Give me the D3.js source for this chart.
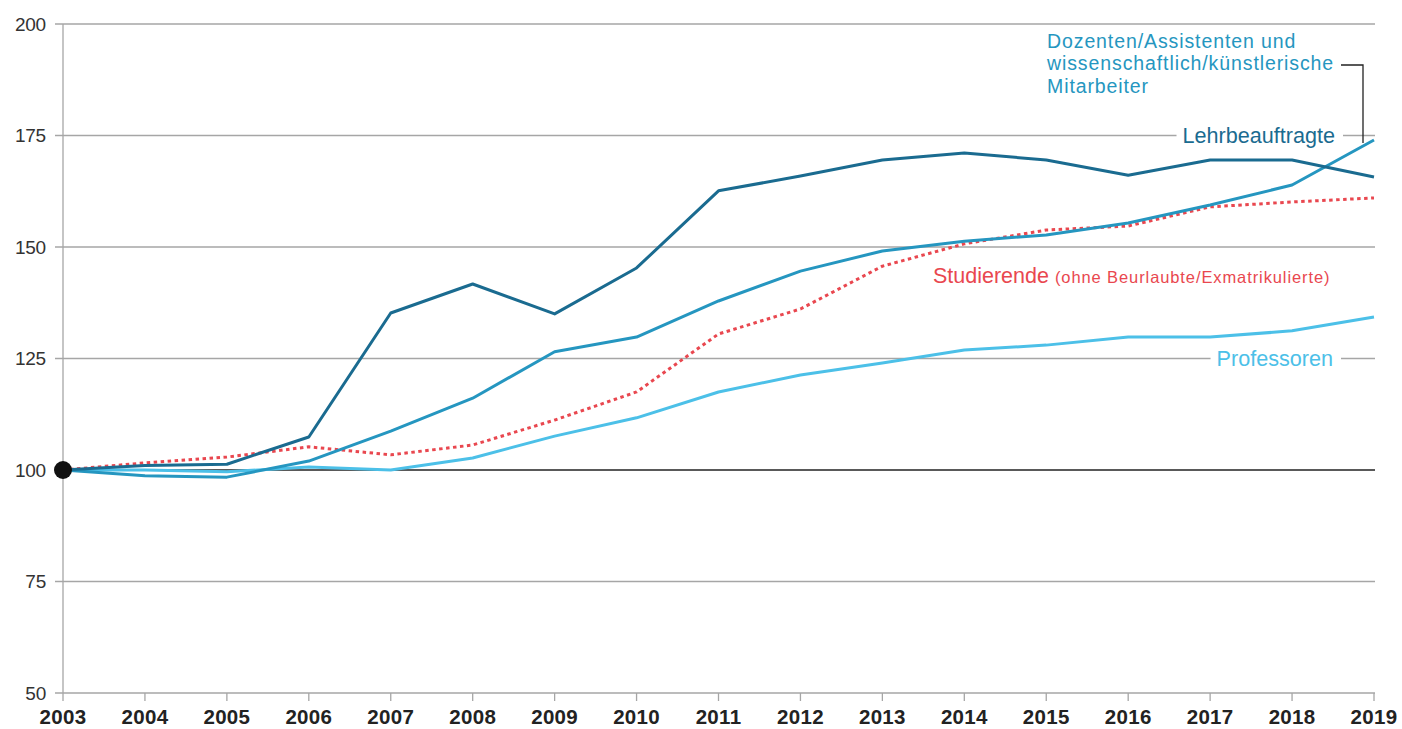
<!DOCTYPE html>
<html>
<head>
<meta charset="utf-8">
<script src="https://cdn.jsdelivr.net/npm/d3@7"></script>
<style>
  html, body { margin: 0; padding: 0; background: #fff; }
  svg { display: block; font-family: "Liberation Sans", Arial, sans-serif; }
</style>
</head>
<body>
<div id="chart"></div>
<script>
// Index values, 2003 = 100
const years = d3.range(2003, 2020);
const yTicks = [50, 75, 100, 125, 150, 175, 200];

const lehrbeauftragte = [100, 101, 101.3, 107.4, 135.2, 141.7, 135, 145.3, 162.6, 165.9, 169.5, 171.1, 169.5, 166.1, 169.5, 169.5, 165.7];
const dozenten = [100, 98.7, 98.4, 102, 108.7, 116.1, 126.5, 129.8, 137.9, 144.6, 149.1, 151.3, 152.7, 155.4, 159.4, 163.9, 174];
const studierende = [100, 101.6, 102.9, 105.2, 103.4, 105.6, 111.2, 117.5, 130.5, 136.1, 145.7, 150.7, 153.8, 154.7, 159, 160.1, 161];
const professoren = [100, 100, 99.6, 100.7, 100, 102.7, 107.6, 111.7, 117.5, 121.3, 124, 126.9, 128, 129.8, 129.8, 131.2, 134.3];

const series = [
  { name: 'professoren', values: professoren, colour: '#4cc0e8', dash: null },
  { name: 'studierende', values: studierende, colour: '#e9474f', dash: '3.5,3.5' },
  { name: 'dozenten', values: dozenten, colour: '#2596c0', dash: null },
  { name: 'lehrbeauftragte', values: lehrbeauftragte, colour: '#1a6b90', dash: null }
];

const width = 1402, height = 729;
const margin = { top: 24, right: 28, bottom: 36, left: 63 };

const x = d3.scaleLinear()
  .domain([2003, 2019])
  .range([margin.left, width - margin.right]);

const y = d3.scaleLinear()
  .domain([50, 200])
  .range([height - margin.bottom, margin.top]);

const svg = d3.select('#chart')
  .append('svg')
  .attr('width', width)
  .attr('height', height);

// Horizontal gridlines
svg.append('g')
  .selectAll('line')
  .data(yTicks)
  .enter()
  .append('line')
  .attr('x1', margin.left - 8)
  .attr('x2', width - margin.right + 1)
  .attr('y1', d => y(d))
  .attr('y2', d => y(d))
  .attr('stroke', d => d === 100 ? '#222' : '#a6a6a6')
  .attr('stroke-width', d => d === 100 ? 1.4 : 1.3);

// Y labels
svg.append('g')
  .selectAll('text')
  .data(yTicks)
  .enter()
  .append('text')
  .attr('x', margin.left - 17)
  .attr('y', d => y(d))
  .attr('dy', '0.36em')
  .attr('text-anchor', 'end')
  .attr('font-size', 19)
  .attr('letter-spacing', -0.2)
  .attr('fill', '#333')
  .text(d => d);

// Vertical axis line
svg.append('line')
  .attr('x1', margin.left).attr('x2', margin.left)
  .attr('y1', y(200)).attr('y2', y(50) + 8)
  .attr('stroke', '#a6a6a6')
  .attr('stroke-width', 1.3);

// X ticks and labels
const xg = svg.append('g');
xg.selectAll('line')
  .data(years.slice(1))
  .enter()
  .append('line')
  .attr('x1', d => x(d)).attr('x2', d => x(d))
  .attr('y1', y(50)).attr('y2', y(50) + 8)
  .attr('stroke', '#a6a6a6')
  .attr('stroke-width', 1.3);

xg.selectAll('text')
  .data(years)
  .enter()
  .append('text')
  .attr('x', d => x(d))
  .attr('y', 724)
  .attr('text-anchor', 'middle')
  .attr('font-size', 20.5)
  .attr('letter-spacing', 0.3)
  .attr('font-weight', 'bold')
  .attr('fill', '#222')
  .text(d => d);

// Lines
const line = d3.line()
  .x((d, i) => x(years[i]))
  .y(d => y(d));

svg.append('g')
  .selectAll('path')
  .data(series)
  .enter()
  .append('path')
  .attr('d', d => line(d.values))
  .attr('fill', 'none')
  .attr('stroke', d => d.colour)
  .attr('stroke-width', 3)
  .attr('stroke-linejoin', 'round')
  .attr('stroke-dasharray', d => d.dash);

// Start dot
svg.append('circle')
  .attr('cx', x(2003))
  .attr('cy', y(100))
  .attr('r', 9)
  .attr('fill', '#111');

// Labels on gridlines (white background breaks the line)
const labelLayer = svg.append('g');
function gridLabel(text, xRight, value, colour) {
  const bg = labelLayer.append('rect').attr('fill', '#fff');
  const t = labelLayer.append('text')
    .attr('x', xRight)
    .attr('y', y(value))
    .attr('dy', '0.36em')
    .attr('text-anchor', 'end')
    .attr('font-size', 21.6)
    .attr('fill', colour)
    .text(text);
  const b = t.node().getBBox();
  bg.attr('x', b.x - 6)
    .attr('y', y(value) - 3)
    .attr('width', b.width + 14)
    .attr('height', 6);
}
gridLabel('Lehrbeauftragte', 1335, 175, '#1a6b90');
gridLabel('Professoren', 1333, 125, '#4cc0e8');

// Studierende label
const st = svg.append('text')
  .attr('x', 933)
  .attr('y', 283)
  .attr('fill', '#e9474f')
  .attr('font-size', 21.5);
st.append('tspan').text('Studierende ');
st.append('tspan').attr('font-size', 16.5).attr('letter-spacing', 0.9)
  .text('(ohne Beurlaubte/Exmatrikulierte)');

// Dozenten label
const dozLines = ['Dozenten/Assistenten und', 'wissenschaftlich/künstlerische', 'Mitarbeiter'];
svg.append('g')
  .selectAll('text')
  .data(dozLines)
  .enter()
  .append('text')
  .attr('x', 1047)
  .attr('y', (d, i) => 47.5 + i * 22.5)
  .attr('font-size', 19.5)
  .attr('letter-spacing', 0.9)
  .attr('fill', '#2596c0')
  .text(d => d);

// Leader line from label to 2019 end point
svg.append('path')
  .attr('d', `M1341,65 H1363 V${y(dozenten[dozenten.length - 1]) + 3}`)
  .attr('fill', 'none')
  .attr('stroke', '#222')
  .attr('stroke-width', 1.3);
</script>
</body>
</html>
